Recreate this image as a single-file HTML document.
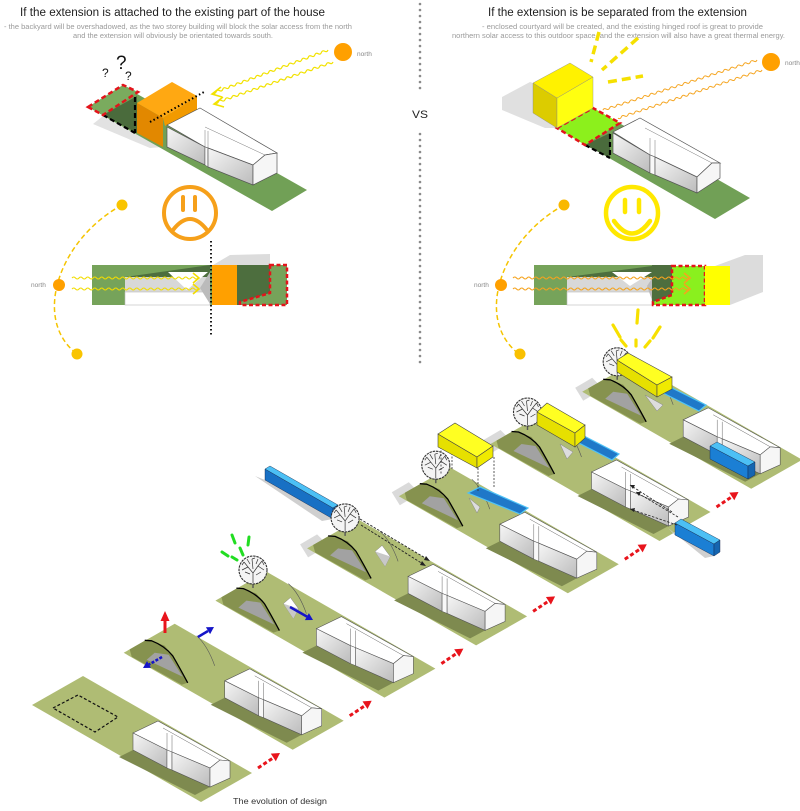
<!DOCTYPE html>
<html><head><meta charset="utf-8">
<style>html,body{margin:0;padding:0;background:#fff;}svg{display:block}</style>
</head><body>
<svg width="800" height="811" viewBox="0 0 800 811" xmlns="http://www.w3.org/2000/svg" font-family="Liberation Sans, sans-serif">
<defs>
<linearGradient id="fg" x1="0" y1="0" x2="1" y2="1"><stop offset="0" stop-color="#f6f6f6"/><stop offset="1" stop-color="#bcbcbc"/></linearGradient>
<polygon id="pl" points="0,0 169,97 118,126 -51,29" fill="#afbc74"/>
<g id="hs">
 <polygon points="50,74 36,81 112,119 127,111" fill="#7e8a4f"/>
 <polygon points="50,57 75,45 147,85 137,84 127,92 89,76 84,74" fill="#fff" stroke="#555" stroke-width="0.6"/>
 <polygon points="50,57 84,74 84,92 50,74" fill="url(#fg)" stroke="#555" stroke-width="0.6"/>
 <polygon points="84,74 89,76 89,94 84,92" fill="#f8f8f8" stroke="#555" stroke-width="0.5"/>
 <polygon points="89,76 127,92 127,111 89,94" fill="url(#fg)" stroke="#555" stroke-width="0.6"/>
 <polygon points="127,92 137,84 147,85 147,102 127,111" fill="#f6f6f6" stroke="#555" stroke-width="0.6"/>
 <path d="M80,52 L137,84 M84,57 L84,74 M89,59 L89,76" stroke="#666" stroke-width="0.5" fill="none"/>
</g>
<g id="hl">
 <polygon points="-45,25.6 -30,17 -23,17 -10,22 -2,32 5,44 13,59 7,61 -43,33" fill="#86924f"/>
 <polygon points="-28,36 -20,29 -6,31 8,53" fill="#a2a2a2"/>
 <path d="M-30,16.5 L-23,17 Q-10,22 -2,32 Q5,44 13,59" stroke="#000" stroke-width="1.3" fill="none"/>
 <path d="M22,12 Q33,22 40,42" stroke="#555" stroke-width="0.6" fill="none"/>
</g>
<g id="sk">
 <polygon points="17,32 24,26 32,37 27,47" fill="#fff" stroke="#888" stroke-width="0.5"/>
 <polygon points="17,32 32,37 27,47" fill="#c8c8c8"/>
</g>
<g id="tr">
 <line x1="0" y1="10" x2="0" y2="18" stroke="#555" stroke-width="1.4"/>
 <circle r="14" fill="#f4f4f4" stroke="#333" stroke-width="1.1" stroke-dasharray="2.5,0.8"/>
 <path d="M0,13 L0,3 L-5,-3 L-9,-8 M0,3 L5,-4 L9,-9 M0,-1 L-1,-11 M-5,-3 L-11,0 M5,-4 L11,0 M-3,-6 L-6,-11 M3,-6 L5,-11 M-8,2 L-3,4 M8,2 L3,5 M-9,-8 L-11,-5 M9,-9 L11,-5 M-1,-11 L2,-12" stroke="#333" stroke-width="0.7" fill="none"/>
</g>
<g id="ra">
 <path d="M0,0 L15,-10" stroke="#e8141c" stroke-width="3" stroke-dasharray="4,2.5"/>
 <polygon points="22,-15 17.8,-6.8 12.8,-14.4" fill="#e8141c"/>
</g>
</defs>

<!-- ===== TITLES ===== -->
<text x="20" y="16" font-size="11.5" fill="#1e1e1e" textLength="305" lengthAdjust="spacingAndGlyphs">If the extension is attached to the existing part of the house</text>
<text x="4" y="29" font-size="7" fill="#9a9a9a" textLength="348" lengthAdjust="spacingAndGlyphs">- the backyard will be overshadowed, as the two storey building will block the solar access from the north</text>
<text x="73" y="38" font-size="7" fill="#9a9a9a" textLength="200" lengthAdjust="spacingAndGlyphs">and the extension will obviously be orientated towards south.</text>
<text x="488" y="16" font-size="11.5" fill="#1e1e1e" textLength="259" lengthAdjust="spacingAndGlyphs">If the extension is be separated from the extension</text>
<text x="482" y="29" font-size="7" fill="#9a9a9a" textLength="281" lengthAdjust="spacingAndGlyphs">- enclosed courtyard will be created, and the existing  hinged roof is great to provide</text>
<text x="452" y="38" font-size="7" fill="#9a9a9a" textLength="333" lengthAdjust="spacingAndGlyphs">northern solar access to this outdoor space, and the extension will also have a great thermal energy.</text>

<!-- divider -->
<line x1="420" y1="4" x2="420" y2="94" stroke="#8a8a8a" stroke-width="2.6" stroke-linecap="round" stroke-dasharray="0,6"/>
<line x1="420" y1="134" x2="420" y2="363" stroke="#8a8a8a" stroke-width="2.6" stroke-linecap="round" stroke-dasharray="0,6"/>
<text x="412" y="118" font-size="11" fill="#222" textLength="16" lengthAdjust="spacingAndGlyphs">VS</text>

<!-- ===== TOP LEFT ISO ===== -->
<polygon points="93,124 103,116 137,133 163,147 150,148" fill="#e2e2e2"/>
<polygon points="88,107 123,86 307,190 272,211" fill="#71a056"/>
<polygon points="88,107 123,85 138,92 103,115" fill="#7aab5e"/>
<polygon points="103,115 137,96 137,133" fill="#4a6b3c"/>
<path d="M103,115 L135,133 M135,97 L135,133" stroke="#000" stroke-width="2.2" stroke-dasharray="5,3" fill="none"/>
<polygon points="88,107 123,85 138,92 103,115" fill="none" stroke="#e3141b" stroke-width="2.5" stroke-dasharray="5,3"/>
<polygon points="163,118 197,96 197,110 165,126" fill="#f29a00"/>
<polygon points="137,103 172,82 197,96 163,118" fill="#ffa812"/>
<polygon points="137,103 163,118 163,147 137,133" fill="#e28800"/>
<line x1="150" y1="122" x2="204" y2="92" stroke="#000" stroke-width="2" stroke-dasharray="1.5,2.5"/>
<!-- house -->
<polygon points="167,125 200,108 277,153 265,155 253,165 208,148 205,147" fill="#fff" stroke="#555" stroke-width="0.7"/>
<polygon points="167,127 205,147 205,165 167,147" fill="url(#fg)" stroke="#555" stroke-width="0.7"/>
<polygon points="205,147 208,148 208,167 205,165" fill="#f8f8f8" stroke="#555" stroke-width="0.5"/>
<polygon points="208,148 253,165 253,185 208,167" fill="url(#fg)" stroke="#555" stroke-width="0.7"/>
<polygon points="253,165 265,155 277,153 277,173 253,185" fill="#f6f6f6" stroke="#555" stroke-width="0.7"/>
<path d="M205,127 L265,155 M205,130 L205,147 M208,131 L208,148" stroke="#777" stroke-width="0.5" fill="none"/>
<!-- sun + rays -->
<circle cx="343" cy="52" r="9" fill="#ffa000"/>
<text x="357" y="56" font-size="6.5" fill="#888">north</text>
<path d="M328,50 q-0.94,2.48 -3.29,1.23 t-3.29,1.23 t-3.29,1.23 t-3.29,1.23 t-3.29,1.23 t-3.29,1.23 t-3.29,1.23 t-3.29,1.23 t-3.29,1.23 t-3.29,1.23 t-3.29,1.23 t-3.29,1.23 t-3.29,1.23 t-3.29,1.23 t-3.29,1.23 t-3.29,1.23 t-3.29,1.23 t-3.29,1.23 t-3.29,1.23 t-3.29,1.23 t-3.29,1.23 t-3.29,1.23 t-3.29,1.23 t-3.29,1.23 t-3.29,1.23 t-3.29,1.23 t-3.29,1.23 t-3.29,1.23 t-3.29,1.23 t-3.29,1.23 t-3.29,1.23 t-3.29,1.23 t-3.29,1.23 t-3.29,1.23 t-3.29,1.23" fill="none" stroke="#f2e200" stroke-width="1.2"/>
<path d="M333,62 q-1.03,2.47 -3.37,1.17 t-3.37,1.17 t-3.37,1.17 t-3.37,1.17 t-3.37,1.17 t-3.37,1.17 t-3.37,1.17 t-3.37,1.17 t-3.37,1.17 t-3.37,1.17 t-3.37,1.17 t-3.37,1.17 t-3.37,1.17 t-3.37,1.17 t-3.37,1.17 t-3.37,1.17 t-3.37,1.17 t-3.37,1.17 t-3.37,1.17 t-3.37,1.17 t-3.37,1.17 t-3.37,1.17 t-3.37,1.17 t-3.37,1.17 t-3.37,1.17 t-3.37,1.17 t-3.37,1.17 t-3.37,1.17 t-3.37,1.17 t-3.37,1.17 t-3.37,1.17 t-3.37,1.17 t-3.37,1.17 t-3.37,1.17 t-3.37,1.17" fill="none" stroke="#f2e200" stroke-width="1.2"/>
<path d="M221,87 L212,94 L222,97 M223,97 L214,104 L224,107" fill="none" stroke="#f2e200" stroke-width="1.6"/>
<text x="102" y="77" font-size="12" fill="#111">?</text>
<text x="116" y="69" font-size="19" fill="#111">?</text>
<text x="125" y="80" font-size="12" fill="#111">?</text>

<!-- sad face -->
<circle cx="190" cy="213" r="26" fill="none" stroke="#f6a01a" stroke-width="4"/>
<path d="M183,197 L183,210 M195,197 L195,210" stroke="#f6a01a" stroke-width="4" stroke-linecap="round"/>
<path d="M173,230 Q190,208 207,230" fill="none" stroke="#f6a01a" stroke-width="4" stroke-linecap="round"/>

<!-- left plan -->
<path d="M122,205 C58,240 32,320 77,354" fill="none" stroke="#f5c400" stroke-width="1.5" stroke-dasharray="5,3"/>
<circle cx="122" cy="205" r="5.5" fill="#f9c400"/>
<circle cx="59" cy="285" r="6" fill="#ffa000"/>
<circle cx="77" cy="354" r="5.5" fill="#f9c400"/>
<text x="31" y="287" font-size="6.5" fill="#888">north</text>
<polygon points="213,265 230,255 270,254 270,265" fill="#dcdcdc"/>
<rect x="92" y="265" width="120" height="40" fill="#76a35a"/>
<polygon points="125,277 210,265 210,277" fill="#4d6e3e"/>
<rect x="125" y="277" width="85" height="15" fill="#d8d8d8"/>
<rect x="125" y="292" width="85" height="13" fill="#fff" stroke="#bbb" stroke-width="0.6"/>
<polygon points="168,272 208,272 187,290" fill="#fff"/>
<polygon points="200,288 210,272 210,304" fill="#bbb"/>
<rect x="212" y="265" width="25" height="40" fill="#ffa000"/>
<rect x="237" y="265" width="33" height="40" fill="#4d6e3e"/>
<polygon points="270,265 287,265 287,305 240,305 240,302 270,293" fill="#76a35a" stroke="#e3141b" stroke-width="2.5" stroke-dasharray="4,2.5"/>
<path d="M72,278 q1.75,-2 3.5,0 t3.5,0 t3.5,0 t3.5,0 t3.5,0 t3.5,0 t3.5,0 t3.5,0 t3.5,0 t3.5,0 t3.5,0 t3.5,0 t3.5,0 t3.5,0 t3.5,0 t3.5,0 t3.5,0 t3.5,0 t3.5,0 t3.5,0 t3.5,0 t3.5,0 t3.5,0 t3.5,0 t3.5,0 t3.5,0 t3.5,0 t3.5,0 t3.5,0 t3.5,0 t3.5,0 t3.5,0 t3.5,0 t3.5,0 t3.5,0 t3.5,0" fill="none" stroke="#f2dc00" stroke-width="1.1"/>
<path d="M72,289 q1.75,-2 3.5,0 t3.5,0 t3.5,0 t3.5,0 t3.5,0 t3.5,0 t3.5,0 t3.5,0 t3.5,0 t3.5,0 t3.5,0 t3.5,0 t3.5,0 t3.5,0 t3.5,0 t3.5,0 t3.5,0 t3.5,0 t3.5,0 t3.5,0 t3.5,0 t3.5,0 t3.5,0 t3.5,0 t3.5,0 t3.5,0 t3.5,0 t3.5,0 t3.5,0 t3.5,0 t3.5,0 t3.5,0 t3.5,0 t3.5,0 t3.5,0 t3.5,0" fill="none" stroke="#f2dc00" stroke-width="1.1"/>
<path d="M193,273 L199,278 L193,283 M193,284 L199,289 L193,294" fill="none" stroke="#f2dc00" stroke-width="1.6"/>
<line x1="211" y1="241" x2="211" y2="337" stroke="#000" stroke-width="1.8" stroke-dasharray="1.5,2.5"/>

<!-- ===== TOP RIGHT ISO ===== -->
<polygon points="502,97 530,82 533,83 533,113 557,128 545,128 502,110" fill="#e0e0e0"/>
<polygon points="557,128 593,108 750,198 715,219" fill="#71a056"/>
<polygon points="585,145 610,133 610,158" fill="#4a6b3c"/>
<path d="M585,145 L610,158 M610,134 L610,158" stroke="#000" stroke-width="2.2" stroke-dasharray="5,3" fill="none"/>
<polygon points="557,128 593,108 620,123 585,145" fill="#8cf01c" stroke="#e3141b" stroke-width="2.5" stroke-dasharray="5,3"/>
<polygon points="533,83 557,98 557,128 533,113" fill="#dccc00" stroke="#888" stroke-width="0.4"/>
<polygon points="557,98 593,77 593,108 557,128" fill="#ffff10" stroke="#888" stroke-width="0.4"/>
<polygon points="533,83 570,63 593,77 557,98" fill="#fff200" stroke="#888" stroke-width="0.4"/>
<path d="M757,60 q-1.05,2.44 -3.35,1.09 t-3.35,1.09 t-3.35,1.09 t-3.35,1.09 t-3.35,1.09 t-3.35,1.09 t-3.35,1.09 t-3.35,1.09 t-3.35,1.09 t-3.35,1.09 t-3.35,1.09 t-3.35,1.09 t-3.35,1.09 t-3.35,1.09 t-3.35,1.09 t-3.35,1.09 t-3.35,1.09 t-3.35,1.09 t-3.35,1.09 t-3.35,1.09 t-3.35,1.09 t-3.35,1.09 t-3.35,1.09 t-3.35,1.09 t-3.35,1.09 t-3.35,1.09 t-3.35,1.09 t-3.35,1.09 t-3.35,1.09 t-3.35,1.09 t-3.35,1.09 t-3.35,1.09 t-3.35,1.09 t-3.35,1.09 t-3.35,1.09 t-3.35,1.09 t-3.35,1.09 t-3.35,1.09 t-3.35,1.09 t-3.35,1.09 t-3.35,1.09 t-3.35,1.09 t-3.35,1.09 t-3.35,1.09 t-3.35,1.09 t-3.35,1.09" fill="none" stroke="#f5a623" stroke-width="1"/>
<path d="M762,70 q-1.05,2.45 -3.35,1.12 t-3.35,1.12 t-3.35,1.12 t-3.35,1.12 t-3.35,1.12 t-3.35,1.12 t-3.35,1.12 t-3.35,1.12 t-3.35,1.12 t-3.35,1.12 t-3.35,1.12 t-3.35,1.12 t-3.35,1.12 t-3.35,1.12 t-3.35,1.12 t-3.35,1.12 t-3.35,1.12 t-3.35,1.12 t-3.35,1.12 t-3.35,1.12 t-3.35,1.12 t-3.35,1.12 t-3.35,1.12 t-3.35,1.12 t-3.35,1.12 t-3.35,1.12 t-3.35,1.12 t-3.35,1.12 t-3.35,1.12 t-3.35,1.12 t-3.35,1.12 t-3.35,1.12 t-3.35,1.12 t-3.35,1.12 t-3.35,1.12 t-3.35,1.12 t-3.35,1.12 t-3.35,1.12 t-3.35,1.12 t-3.35,1.12 t-3.35,1.12 t-3.35,1.12 t-3.35,1.12" fill="none" stroke="#f5a623" stroke-width="1"/>
<!-- house -->
<polygon points="613,132 640,118 720,163 712,163 697,177 655,157 650,155" fill="#fff" stroke="#555" stroke-width="0.7"/>
<polygon points="613,133 650,155 650,173 613,153" fill="url(#fg)" stroke="#555" stroke-width="0.7"/>
<polygon points="650,155 655,157 655,175 650,173" fill="#f8f8f8" stroke="#555" stroke-width="0.5"/>
<polygon points="655,157 697,177 697,193 655,175" fill="url(#fg)" stroke="#555" stroke-width="0.7"/>
<polygon points="697,177 712,163 720,163 720,178 697,193" fill="#f6f6f6" stroke="#555" stroke-width="0.7"/>
<path d="M645,128 L712,163 M650,138 L650,155 M655,140 L655,157" stroke="#777" stroke-width="0.5" fill="none"/>
<circle cx="771" cy="62" r="9" fill="#ffa000"/>
<text x="785" y="65" font-size="6.5" fill="#888">north</text>
<path d="M599,32 L591,62 M638,38 L602,70 M608,82 L643,76" stroke="#f5e000" stroke-width="3.5" stroke-dasharray="9,5" fill="none"/>

<!-- happy face -->
<circle cx="632" cy="213" r="26" fill="none" stroke="#ffe800" stroke-width="4.5"/>
<path d="M625,200 L625,212 M639,200 L639,212" stroke="#ffe800" stroke-width="4.5" stroke-linecap="round"/>
<path d="M614,221 Q632,246 650,221" fill="none" stroke="#ffe800" stroke-width="4.5" stroke-linecap="round"/>

<!-- right plan -->
<path d="M564,205 C500,240 474,320 519,354" fill="none" stroke="#f5c400" stroke-width="1.5" stroke-dasharray="5,3"/>
<circle cx="564" cy="205" r="5.5" fill="#f9b800"/>
<circle cx="501" cy="285" r="6" fill="#ffa000"/>
<circle cx="520" cy="354" r="5.5" fill="#f9c000"/>
<text x="474" y="287" font-size="6.5" fill="#888">north</text>
<polygon points="715,266 745,255 763,255 763,292 730,305 730,266" fill="#dcdcdc"/>
<rect x="534" y="265" width="120" height="40" fill="#76a35a"/>
<polygon points="567,277 652,266 652,277" fill="#4d6e3e"/>
<rect x="567" y="277" width="85" height="15" fill="#d8d8d8"/>
<rect x="567" y="292" width="85" height="13" fill="#fff" stroke="#bbb" stroke-width="0.6"/>
<polygon points="612,272 652,272 630,286" fill="#fff"/>
<polygon points="647,286 653,277 653,303" fill="#bbb"/>
<rect x="652" y="265" width="20" height="40" fill="#4d6e3e"/>
<polygon points="672,266 705,266 705,305 653,305 653,302 672,295" fill="#8af01e" stroke="#e3141b" stroke-width="2.5" stroke-dasharray="4,2.5"/>
<rect x="705" y="266" width="25" height="39" fill="#ffff00"/>
<path d="M513,278 q1.75,-2 3.5,0 t3.5,0 t3.5,0 t3.5,0 t3.5,0 t3.5,0 t3.5,0 t3.5,0 t3.5,0 t3.5,0 t3.5,0 t3.5,0 t3.5,0 t3.5,0 t3.5,0 t3.5,0 t3.5,0 t3.5,0 t3.5,0 t3.5,0 t3.5,0 t3.5,0 t3.5,0 t3.5,0 t3.5,0 t3.5,0 t3.5,0 t3.5,0 t3.5,0 t3.5,0 t3.5,0 t3.5,0 t3.5,0 t3.5,0 t3.5,0 t3.5,0 t3.5,0 t3.5,0 t3.5,0 t3.5,0 t3.5,0 t3.5,0 t3.5,0 t3.5,0 t3.5,0 t3.5,0 t3.5,0 t3.5,0 t3.5,0 t3.5,0" fill="none" stroke="#f5a31e" stroke-width="1.1"/>
<path d="M513,289 q1.75,-2 3.5,0 t3.5,0 t3.5,0 t3.5,0 t3.5,0 t3.5,0 t3.5,0 t3.5,0 t3.5,0 t3.5,0 t3.5,0 t3.5,0 t3.5,0 t3.5,0 t3.5,0 t3.5,0 t3.5,0 t3.5,0 t3.5,0 t3.5,0 t3.5,0 t3.5,0 t3.5,0 t3.5,0 t3.5,0 t3.5,0 t3.5,0 t3.5,0 t3.5,0 t3.5,0 t3.5,0 t3.5,0 t3.5,0 t3.5,0 t3.5,0 t3.5,0 t3.5,0 t3.5,0 t3.5,0 t3.5,0 t3.5,0 t3.5,0 t3.5,0 t3.5,0 t3.5,0 t3.5,0 t3.5,0 t3.5,0 t3.5,0 t3.5,0" fill="none" stroke="#f5a31e" stroke-width="1.1"/>
<path d="M684,273 L690,278 L684,283 M684,284 L690,289 L684,294" fill="none" stroke="#f5a31e" stroke-width="1.6"/>

<!-- ===== EVOLUTION ===== -->
<!-- plot 7 -->
<g transform="translate(633.2,362.8)">
 <polygon points="-58,25 -41,15 -30,26 -50,38" fill="#dadada"/>
 <use href="#pl"/><use href="#hl"/><use href="#hs"/>
 <use href="#tr" transform="translate(-16,-1)"/>
</g>
<polygon points="661,392 670,387 706,405 699,411" fill="#1f78c8" stroke="#4fc3f7" stroke-width="1.2"/>
<polygon points="645,395 663,405 657,411" fill="#ddd" stroke="#888" stroke-width="0.5"/>
<polygon points="617,360 657,385 657,397 617,372" fill="#e6e000" stroke="#444" stroke-width="0.6"/>
<polygon points="617,360 628,353 672,377 657,385" fill="#ffff22" stroke="#444" stroke-width="0.6"/>
<polygon points="657,385 672,377 672,389 657,397" fill="#f0ea00" stroke="#444" stroke-width="0.6"/>
<polygon points="710,446 748,466 748,479 710,459" fill="#1b7fd4" stroke="#124" stroke-width="0.4"/>
<polygon points="710,446 717,442 755,462 748,466" fill="#4cc0f5" stroke="#124" stroke-width="0.4"/>
<polygon points="748,466 755,462 755,475 748,479" fill="#1565b0" stroke="#124" stroke-width="0.4"/>
<path d="M638,310 L637,323 M613,325 L620,337 M660,327 L653,338 M621,340 L626,346 M636,340 L636,346 M650,341 L645,347" stroke="#f7e000" stroke-width="3.2" stroke-linecap="round"/>

<!-- plot 6 -->
<g transform="translate(541.5,415)">
 <polygon points="-58,25 -41,15 -30,26 -50,38" fill="#dadada"/>
 <use href="#pl"/><use href="#hl"/><use href="#hs"/>
 <use href="#tr" transform="translate(-14,-3)"/>
</g>
<polygon points="575,441 584,436 619,454 612,460" fill="#1f78c8" stroke="#4fc3f7" stroke-width="1.2"/>
<polygon points="560,444 573,452 567,459" fill="#ddd" stroke="#888" stroke-width="0.5"/>
<polygon points="537,412 575,433 575,447 537,425" fill="#e6e000" stroke="#444" stroke-width="0.6"/>
<polygon points="537,412 547,403 585,425 575,433" fill="#ffff22" stroke="#444" stroke-width="0.6"/>
<polygon points="575,433 585,425 585,438 575,447" fill="#f0ea00" stroke="#444" stroke-width="0.6"/>
<polygon points="668,528 675,535 714,556 705,558" fill="#cfcfcf"/>
<polygon points="675,523 714,544 714,556 675,535" fill="#1b7fd4" stroke="#124" stroke-width="0.4"/>
<polygon points="675,523 681,519 720,540 714,544" fill="#4cc0f5" stroke="#124" stroke-width="0.4"/>
<polygon points="714,544 720,540 720,552 714,556" fill="#1565b0" stroke="#124" stroke-width="0.4"/>
<path d="M678,517 L636,492 M677,525 L630,509 M672,512 L630,485" stroke="#222" stroke-width="0.8" stroke-dasharray="2.5,1.5" fill="none"/>
<path d="M636,492 l5,0 l-2,4 z M630,509 l5,-1 l-1,4 z M630,485 l5,0 l-2,4 z" fill="#222"/>

<!-- plot 5 -->
<g transform="translate(449.8,467.2)">
 <polygon points="-58,25 -41,15 -30,26 -50,38" fill="#dadada"/>
 <use href="#pl"/><use href="#hl"/><use href="#hs"/>
 <use href="#tr" transform="translate(-14,-2)"/>
</g>
<polygon points="468,493 480,487 528,508 520,514" fill="#1f78c8" stroke="#4fc3f7" stroke-width="1.2"/>
<polygon points="469,498 480,507 477,513" fill="#ddd" stroke="#888" stroke-width="0.5"/>
<path d="M441,447 L441,474 M452,453 L452,470 M478,468 L478,492 M494,457 L494,488" stroke="#333" stroke-width="0.8" stroke-dasharray="2,1.5"/>
<polygon points="438,434 477,457 477,468 438,447" fill="#e6e000" stroke="#444" stroke-width="0.6"/>
<polygon points="438,434 455,423 493,446 477,457" fill="#ffff22" stroke="#444" stroke-width="0.6"/>
<polygon points="477,457 493,446 493,457 477,468" fill="#f0ea00" stroke="#444" stroke-width="0.6"/>

<!-- plot 4 -->
<polygon points="255,476 265,480 333,519 322,521" fill="#cfcfcf"/>
<polygon points="265,469 333,508 333,519 265,480" fill="#1870c4" stroke="#124" stroke-width="0.4"/>
<polygon points="265,469 270,466 338,505 333,508" fill="#4cc0f5" stroke="#124" stroke-width="0.4"/>
<polygon points="333,508 338,505 338,516 333,519" fill="#1565b0" stroke="#124" stroke-width="0.4"/>
<g transform="translate(358.1,519.4)">
 <polygon points="-58,25 -41,15 -30,26 -50,38" fill="#dadada"/>
 <use href="#pl"/><use href="#hl"/><use href="#sk"/><use href="#hs"/>
 <use href="#tr" transform="translate(-13,-1.5)"/>
</g>
<path d="M360,519 L427,559 M361,525 L423,564" stroke="#222" stroke-width="0.9" stroke-dasharray="2.5,1.5" fill="none"/>
<path d="M430,561 l-6,-1 l2,-4 z M426,566 l-6,-1 l2,-4 z" fill="#222"/>

<!-- plot 3 -->
<g transform="translate(266.4,571.6)">
 <use href="#pl"/><use href="#hl"/><use href="#sk"/><use href="#hs"/>
 <use href="#tr" transform="translate(-13.4,-1.6)"/>
</g>
<path d="M232,535 L235,543 M249,537 L248,545 M240,548 L243,555 M222,552 L228,556 M232,557 L237,560" stroke="#22dd22" stroke-width="3" stroke-linecap="round"/>
<line x1="290" y1="607" x2="307" y2="616.6" stroke="#1515c8" stroke-width="2.5"/>
<polygon points="313,620 304.9,620.1 308.9,613.1" fill="#1515c8"/>

<!-- plot 2 -->
<g transform="translate(174.7,623.8)">
 <use href="#pl"/><use href="#hl"/><use href="#hs"/>
</g>
<line x1="165" y1="633" x2="165" y2="620" stroke="#e8141c" stroke-width="3"/>
<polygon points="160.5,621 165,611 169.5,621" fill="#e8141c"/>
<line x1="198" y1="637" x2="208" y2="631" stroke="#1515c8" stroke-width="2.5"/>
<polygon points="214,627 210.1,634.1 205.9,627.3" fill="#1515c8"/>
<line x1="162" y1="657" x2="149" y2="664.5" stroke="#1515c8" stroke-width="2.5" stroke-dasharray="3,1.5"/>
<polygon points="143,668 151,667.9 147,661.1" fill="#1515c8"/>

<!-- plot 1 -->
<g transform="translate(83,676)">
 <use href="#pl"/>
 <polygon points="-30,32 -5,19 35,41 12,56" fill="none" stroke="#111" stroke-width="1.2" stroke-dasharray="3,2"/>
 <use href="#hs"/>
</g>

<!-- red arrows -->
<use href="#ra" transform="translate(258,768)"/>
<use href="#ra" transform="translate(349.7,715.8)"/>
<use href="#ra" transform="translate(441.4,663.6)"/>
<use href="#ra" transform="translate(533.1,611.4)"/>
<use href="#ra" transform="translate(624.8,559.2)"/>
<use href="#ra" transform="translate(716.5,507)"/>

<text x="233" y="804" font-size="8.5" fill="#333" textLength="94" lengthAdjust="spacingAndGlyphs">The evolution of design</text>
</svg>
</body></html>
